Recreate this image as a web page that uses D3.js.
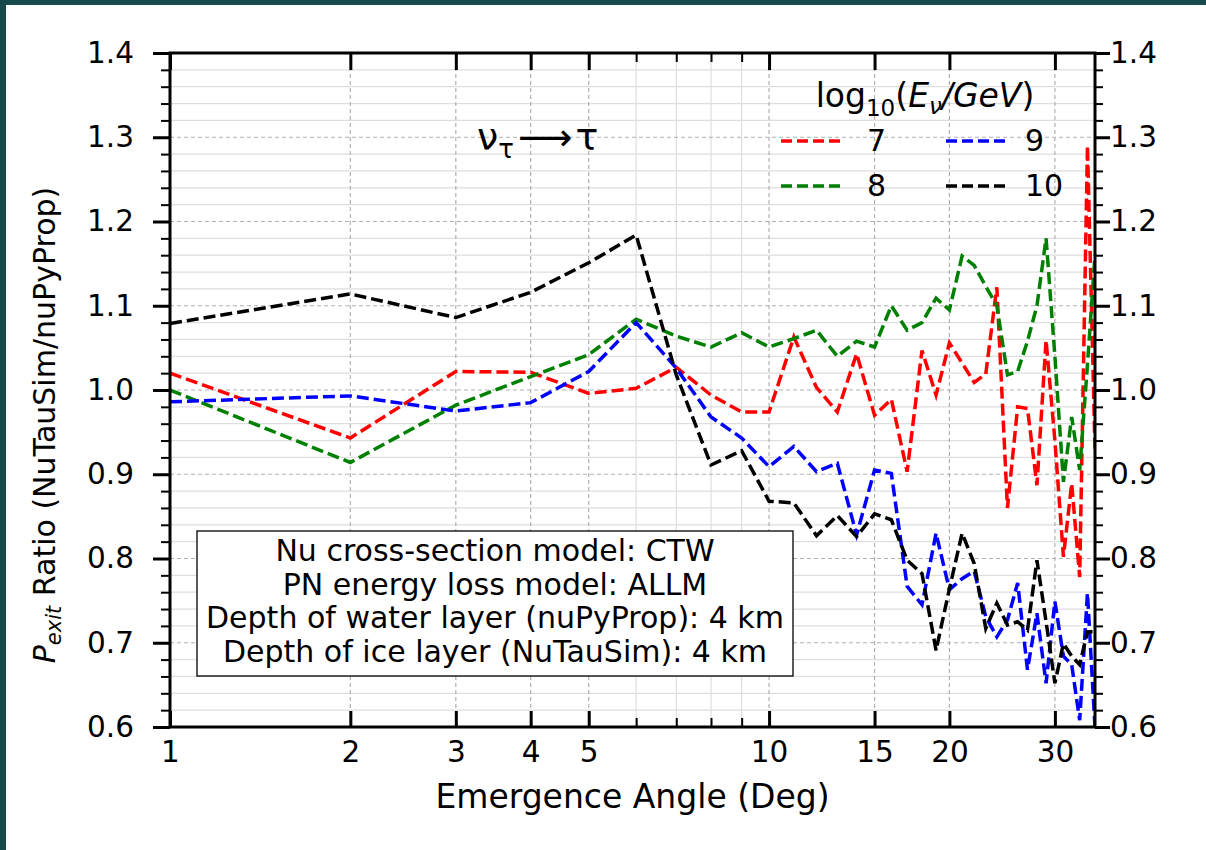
<!DOCTYPE html>
<html>
<head>
<meta charset="utf-8">
<script src="https://cdn.jsdelivr.net/npm/d3@7"></script>
<style>
body { margin: 0; background: #fff; }
svg text { font-family: "DejaVu Sans", sans-serif; fill: #000; }
</style>
</head>
<body>
<div id="chart-area"></div>
<script>
/*
*    P_exit ratio vs emergence angle
*/

var angles = d3.range(1, 36);

var ratio7 = [1.020, 0.943, 1.022, 1.021, 0.996, 1.002, 1.027, 0.994, 0.974, 0.974,
              1.063, 1.003, 0.974, 1.043, 0.970, 0.989, 0.903, 1.047, 0.994, 1.056,
              1.032, 1.009, 1.019, 1.122, 0.860, 0.980, 0.978, 0.887, 1.059, 0.940,
              0.802, 0.889, 0.778, 1.290, 0.930];
var ratio8 = [1.000, 0.914, 0.982, 1.016, 1.042, 1.084, 1.064, 1.051, 1.068, 1.051,
              1.061, 1.071, 1.040, 1.058, 1.051, 1.100, 1.071, 1.080, 1.109, 1.095,
              1.159, 1.148, 1.123, 1.100, 1.018, 1.022, 1.058, 1.100, 1.180, 1.040,
              0.891, 0.968, 0.905, 1.030, 1.160];
var ratio9 = [0.986, 0.993, 0.975, 0.985, 1.022, 1.080, 1.026, 0.968, 0.943, 0.909,
              0.933, 0.903, 0.913, 0.828, 0.905, 0.901, 0.767, 0.745, 0.830, 0.763,
              0.776, 0.785, 0.731, 0.707, 0.727, 0.771, 0.668, 0.735, 0.652, 0.749,
              0.684, 0.674, 0.608, 0.759, 0.600];
var ratio10 = [1.079, 1.114, 1.086, 1.116, 1.151, 1.184, 1.018, 0.911, 0.928, 0.868,
               0.866, 0.827, 0.851, 0.826, 0.853, 0.846, 0.798, 0.782, 0.691, 0.764,
               0.830, 0.794, 0.717, 0.747, 0.721, 0.725, 0.715, 0.798, 0.725, 0.652,
               0.699, 0.684, 0.674, 0.713, 0.713];

var seriesNames = ["7", "8", "9", "10"];
var seriesColors = ["#ff0000", "#008000", "#0000ff", "#000000"];
var seriesValues = [ratio7, ratio8, ratio9, ratio10];

var xMajorTicks = [1, 2, 3, 4, 5, 10, 15, 20, 30];
var xMinorTicks = [6, 7, 8, 9];
var yMajorTicks = [0.6, 0.7, 0.8, 0.9, 1.0, 1.1, 1.2, 1.3, 1.4];
var yMinorTicks = d3.range(31, 70).map((d) => d / 50).filter((d) => Math.round(d * 50) % 5 != 0);

var boxLines = ["Nu cross-section model: CTW",
                "PN energy loss model: ALLM",
                "Depth of water layer (nuPyProp): 4 km",
                "Depth of ice layer (NuTauSim): 4 km"];

var W = 1206, H = 850;
var pL = 170, pR = 1095, pT = 53, pB = 727;

var svg = d3.select("#chart-area").append("svg")
    .attr("width", W)
    .attr("height", H);

svg.append("rect").attr("width", W).attr("height", H).attr("fill", "#fff");
// slide background showing at the top and left edge
svg.append("rect").attr("width", W).attr("height", 5).attr("fill", "#174b4b");
svg.append("rect").attr("width", 6).attr("height", H).attr("fill", "#174b4b");

var x = d3.scaleLog().domain([1, 35]).range([pL, pR]);
var y = d3.scaleLinear().domain([0.6, 1.4]).range([pB, pT]);

// grid
var grid = svg.append("g");
grid.selectAll(".ymin").data(yMinorTicks).enter().append("line")
    .attr("x1", pL).attr("x2", pR)
    .attr("y1", (d) => y(d)).attr("y2", (d) => y(d))
    .attr("stroke", "#dedede").attr("stroke-width", 1.2);
grid.selectAll(".xmin").data(xMinorTicks).enter().append("line")
    .attr("y1", pT).attr("y2", pB)
    .attr("x1", (d) => x(d)).attr("x2", (d) => x(d))
    .attr("stroke", "#dedede").attr("stroke-width", 1.2);
grid.selectAll(".ymaj").data(yMajorTicks).enter().append("line")
    .attr("x1", pL).attr("x2", pR)
    .attr("y1", (d) => y(d)).attr("y2", (d) => y(d))
    .attr("stroke", "#b0b0b0").attr("stroke-width", 1.2).attr("stroke-dasharray", "4,3");
grid.selectAll(".xmaj").data(xMajorTicks).enter().append("line")
    .attr("y1", pT).attr("y2", pB)
    .attr("x1", (d) => x(d)).attr("x2", (d) => x(d))
    .attr("stroke", "#b0b0b0").attr("stroke-width", 1.2).attr("stroke-dasharray", "4,3");

// series
svg.append("clipPath").attr("id", "plot-clip")
  .append("rect").attr("x", pL).attr("y", pT)
    .attr("width", pR - pL).attr("height", pB - pT);

var line = d3.line()
    .x((d) => x(d[0]))
    .y((d) => y(d[1]));

svg.append("g").attr("clip-path", "url(#plot-clip)")
  .selectAll("path").data(seriesValues).enter().append("path")
    .attr("d", (vals) => line(angles.map((a, i) => [a, vals[i]])))
    .attr("fill", "none")
    .attr("stroke", (d, i) => seriesColors[i])
    .attr("stroke-width", 3.5)
    .attr("stroke-dasharray", "12,5");

// info box
svg.append("rect")
    .attr("x", 197).attr("y", 531).attr("width", 596).attr("height", 145)
    .attr("fill", "#fff").attr("stroke", "#000").attr("stroke-width", 1.3);
svg.selectAll(".box").data(boxLines).enter().append("text")
    .attr("x", 495).attr("y", (d, i) => 561 + i * 33.5)
    .attr("text-anchor", "middle").attr("font-size", 30)
    .text((d) => d);

// axes
function styleAxis(g, width) {
    g.select(".domain").remove();
    g.selectAll(".tick line").attr("stroke", "#000").attr("stroke-width", width);
    g.selectAll(".tick text").attr("font-size", 29.5).attr("fill", "#000")
        .attr("font-family", "DejaVu Sans");
}

svg.append("g").attr("transform", "translate(" + pL + ",0)")
    .call(d3.axisLeft(y).tickValues(yMinorTicks).tickSize(9).tickFormat(""))
    .call((g) => styleAxis(g, 2));
svg.append("g").attr("transform", "translate(" + pL + ",0)")
    .call(d3.axisLeft(y).tickValues(yMajorTicks).tickSize(17).tickPadding(19).tickFormat(d3.format(".1f")))
    .call((g) => styleAxis(g, 3));

svg.append("g").attr("transform", "translate(" + pR + ",0)")
    .call(d3.axisRight(y).tickValues(yMinorTicks).tickSize(8).tickFormat(""))
    .call((g) => styleAxis(g, 2));
svg.append("g").attr("transform", "translate(" + pR + ",0)")
    .call(d3.axisRight(y).tickValues(yMajorTicks).tickSize(15).tickPadding(0).tickFormat(d3.format(".1f")))
    .call((g) => styleAxis(g, 3));

svg.append("g").attr("transform", "translate(0," + pB + ")")
    .call(d3.axisBottom(x).tickValues(xMinorTicks).tickSizeInner(-9).tickSizeOuter(0).tickFormat(""))
    .call((g) => styleAxis(g, 2));
svg.append("g").attr("transform", "translate(0," + pB + ")")
    .call(d3.axisBottom(x).tickValues(xMajorTicks).tickSizeInner(-16).tickSizeOuter(0).tickPadding(14).tickFormat(d3.format("d")))
    .call((g) => styleAxis(g, 3));

svg.append("g").attr("transform", "translate(0," + pT + ")")
    .call(d3.axisTop(x).tickValues(xMinorTicks).tickSizeInner(-9).tickSizeOuter(0).tickFormat(""))
    .call((g) => styleAxis(g, 2));
svg.append("g").attr("transform", "translate(0," + pT + ")")
    .call(d3.axisTop(x).tickValues(xMajorTicks).tickSizeInner(-17).tickSizeOuter(0).tickFormat(""))
    .call((g) => styleAxis(g, 3));

// frame
svg.append("rect")
    .attr("x", pL).attr("y", pT)
    .attr("width", pR - pL).attr("height", pB - pT)
    .attr("fill", "none").attr("stroke", "#000").attr("stroke-width", 3);

// axis labels
svg.append("text")
    .attr("x", (pL + pR) / 2).attr("y", 808)
    .attr("text-anchor", "middle").attr("font-size", 33)
    .text("Emergence Angle (Deg)");

var ylab = svg.append("text")
    .attr("transform", "translate(55," + ((pT + pB) / 2 + 35) + ") rotate(-90)")
    .attr("text-anchor", "middle").attr("font-size", 30);
ylab.append("tspan").attr("font-style", "italic").text("P");
ylab.append("tspan").attr("font-style", "italic").attr("font-size", 21).attr("dy", 6).text("exit");
ylab.append("tspan").attr("dy", -6).text(" Ratio (NuTauSim/nuPyProp)");

// reaction label
var reac = svg.append("text").attr("x", 477).attr("y", 150).attr("font-size", 38);
reac.append("tspan").text("\u03bd");
reac.append("tspan").attr("font-size", 26).attr("dy", 8).text("\u03c4");
reac.append("tspan").attr("dy", -8).attr("dx", 4).text("\u27f6");
reac.append("tspan").attr("dx", 3).text("\u03c4");

// legend
var lt = svg.append("text").attr("x", 925).attr("y", 107)
    .attr("text-anchor", "middle").attr("font-size", 33);
lt.append("tspan").text("log");
lt.append("tspan").attr("font-size", 23).attr("dy", 9).text("10");
lt.append("tspan").attr("dy", -9).text("(");
lt.append("tspan").attr("font-style", "italic").text("E");
lt.append("tspan").attr("font-style", "italic").attr("font-size", 23).attr("dy", 7).text("\u03bd");
lt.append("tspan").attr("font-style", "italic").attr("dy", -7).text("/GeV");
lt.append("tspan").text(")");

var legendCols = [781, 946];
var legendRows = [141, 186];
var legend = svg.selectAll(".leg").data(seriesNames).enter().append("g")
    .attr("transform", (d, i) => "translate(" + legendCols[Math.floor(i / 2)] + "," + legendRows[i % 2] + ")");
legend.append("line")
    .attr("x1", 0).attr("x2", 60)
    .attr("stroke", (d, i) => seriesColors[i])
    .attr("stroke-width", 3.5).attr("stroke-dasharray", "11,5");
legend.append("text")
    .attr("x", (d, i) => i < 2 ? 86 : 79).attr("y", 10)
    .attr("font-size", 30)
    .text((d) => d);
</script>
</body>
</html>
